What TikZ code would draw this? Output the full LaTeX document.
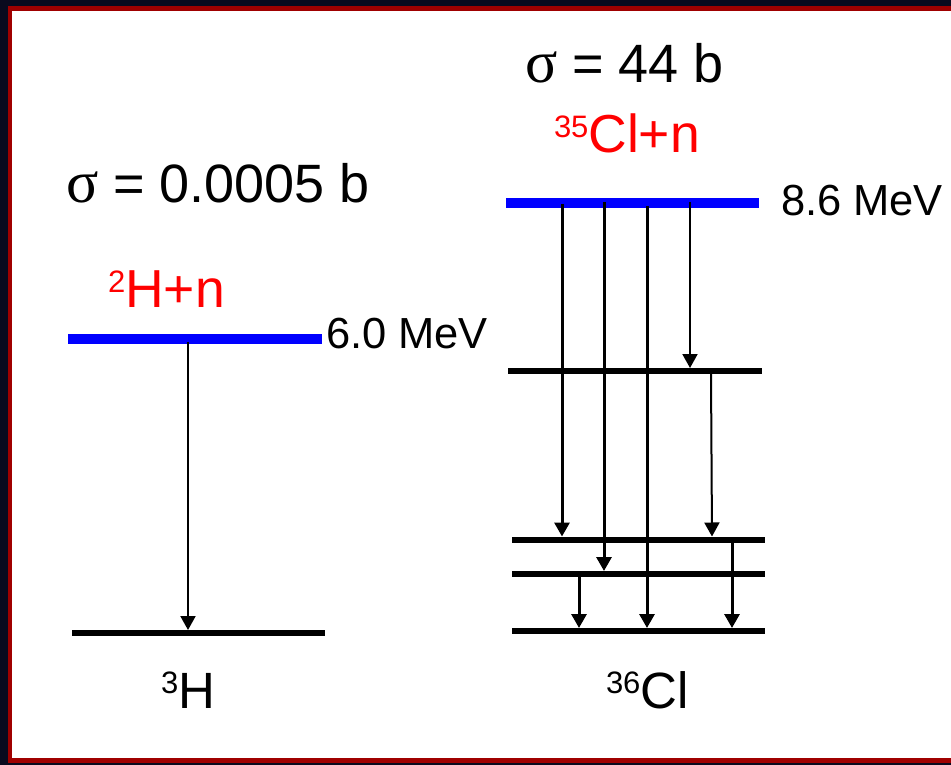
\documentclass[tikz,border=0pt]{standalone}
\usepackage{fontspec}
\setmainfont{Liberation Sans}
\newfontfamily\greekfont{Liberation Serif}
\usetikzlibrary{arrows.meta}
\definecolor{bgdark}{HTML}{0A0A1E}
\definecolor{framered}{HTML}{A00000}
\definecolor{lvlblue}{HTML}{0000FF}
\definecolor{txtred}{HTML}{FF0000}
\tikzset{
  lbl/.style={anchor=base west, inner sep=0pt, outer sep=0pt},
  biglbl/.style={lbl, font=\fontsize{54}{60}\selectfont},
  redlbl/.style={lbl, text=txtred, font=\fontsize{53.5}{58}\selectfont},
  mevlbl/.style={lbl, font=\fontsize{43.5}{50}\selectfont},
  nuclbl/.style={lbl, font=\fontsize{51}{58}\selectfont},
  capture/.style={draw=lvlblue, line width=10pt},
  level/.style={draw=black, line width=6pt},
  gthick/.style={draw=black, line width=3pt, -{Triangle[width=15pt,length=14pt]}},
  gthin/.style={draw=black, line width=2pt, -{Triangle[width=15pt,length=14pt]}},
}
\newcommand{\sups}[1]{\raisebox{15pt}{\fontsize{31}{31}\selectfont #1}}
\begin{document}
\begin{tikzpicture}[x=1pt,y=-1pt]
\fill[bgdark] (0,0) rectangle (951,765);
\fill[framered] (8,6) rectangle (951,763);
\fill[white] (12,11) rectangle (951,758);
\useasboundingbox (0,0) rectangle (951,765);

% ---------- left: 2H + n ----------
\node[biglbl] (sigL) at (66,202) {{\greekfont\fontsize{60}{60}\selectfont σ} = 0.0005 b};
\node[redlbl] (capL) at (108,307) {\sups{2}H+n};
\coordinate (bL1) at (68,339); \coordinate (bL2) at (322,339);
\draw[capture] (bL1) -- (bL2);
\node[mevlbl] (mevL) at (326,348) {6.0 MeV};
\coordinate (gL1) at (72,633); \coordinate (gL2) at (325,633);
\draw[level] (gL1) -- (gL2);
\node[nuclbl] (nucL) at (161,708) {\sups{3}H};
\coordinate (aL0) at (188,342); \coordinate (aL1) at (188,630);
\draw[gthin] (aL0) -- (aL1);

% ---------- right: 35Cl + n ----------
\node[biglbl] (sigR) at (525,83) {{\greekfont\fontsize{60}{60}\selectfont σ} = 44 b};
\node[redlbl] (capR) at (554,153) {\sups{35}Cl+n};
\coordinate (bR1) at (506,203); \coordinate (bR2) at (759,203);
\draw[capture] (bR1) -- (bR2);
\node[mevlbl] (mevR) at (781,215) {8.6 MeV};

\coordinate (l2a) at (508,371); \coordinate (l2b) at (762,371);
\coordinate (lAa) at (512,539.5); \coordinate (lAb) at (765,539.5);
\coordinate (lBa) at (512,574); \coordinate (lBb) at (765,574);
\coordinate (lCa) at (512,631); \coordinate (lCb) at (765,631);
\draw[level] (l2a) -- (l2b);
\draw[level] (lAa) -- (lAb);
\draw[level] (lBa) -- (lBb);
\draw[level] (lCa) -- (lCb);
\node[nuclbl] (nucR) at (606,708) {\sups{36}Cl};

% gamma transitions
\coordinate (s1) at (562,204); \coordinate (e1) at (562,536.5);
\coordinate (s2) at (604,202); \coordinate (e2) at (604,571);
\coordinate (s3) at (647,206); \coordinate (e3) at (647,628);
\coordinate (s4) at (690,202); \coordinate (e4) at (690,368);
\coordinate (s5) at (711,374); \coordinate (e5) at (712,536.5);
\coordinate (s6) at (732,542); \coordinate (e6) at (732,628);
\coordinate (s7) at (579,577); \coordinate (e7) at (579,628);
\draw[gthick] (s1) -- (e1);
\draw[gthick] (s2) -- (e2);
\draw[gthick] (s3) -- (e3);
\draw[gthin] (s4) -- (e4);
\draw[gthin] (s5) -- (e5);
\draw[gthick] (s6) -- (e6);
\draw[gthick] (s7) -- (e7);
\end{tikzpicture}
\end{document}
